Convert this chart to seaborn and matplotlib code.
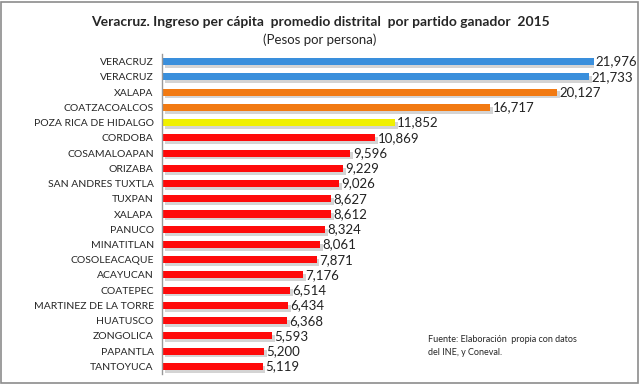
import matplotlib
matplotlib.use("Agg")
import matplotlib.pyplot as plt
import matplotlib.patheffects as pe
import seaborn as sns
import pandas as pd

# datos
distritos = ["VERACRUZ", "VERACRUZ", "XALAPA", "COATZACOALCOS", "POZA RICA DE HIDALGO",
             "CORDOBA", "COSAMALOAPAN", "ORIZABA", "SAN ANDRES TUXTLA", "TUXPAN",
             "XALAPA", "PANUCO", "MINATITLAN", "COSOLEACAQUE", "ACAYUCAN",
             "COATEPEC", "MARTINEZ DE LA TORRE", "HUATUSCO", "ZONGOLICA", "PAPANTLA",
             "TANTOYUCA"]
ingreso = [21976, 21733, 20127, 16717, 11852, 10869, 9596, 9229, 9026, 8627,
           8612, 8324, 8061, 7871, 7176, 6514, 6434, 6368, 5593, 5200, 5119]
partido = ["azul", "azul", "naranja", "naranja", "amarillo"] + ["rojo"] * 16
colores = {"azul": "#3a8fdc", "naranja": "#f27a12", "amarillo": "#f0f000", "rojo": "#ff0a0a"}

df = pd.DataFrame({"distrito": distritos, "ingreso": ingreso, "partido": partido})
df["pos"] = range(len(df))

sns.set_style("white")
plt.rcParams["font.family"] = ["Lato", "DejaVu Sans"]

fig = plt.figure(figsize=(6.4, 3.84), dpi=100)
ax = fig.add_axes([162 / 640, 1 - 374 / 384, (594 - 162) / 640, (374 - 54) / 384])

sns.barplot(data=df, y="pos", x="ingreso", hue="partido", palette=colores,
            orient="h", dodge=False, width=0.46, legend=False, ax=ax,
            edgecolor="none", saturation=1)

# sombra suave bajo cada barra
for bar in ax.patches:
    bar.set_path_effects([pe.SimplePatchShadow(offset=(2, -2), shadow_rgbFace="#a0a0a0", alpha=0.45),
                          pe.Normal()])

for i, v in enumerate(ingreso):
    ax.text(v + 120, i, f"{v:,}", va="center", ha="left", fontsize=9.5,
            color="#222222", clip_on=False)

ax.set_yticks(range(len(distritos)))
ax.set_yticklabels(distritos, fontsize=7.5)
ax.set_ylim(len(distritos) - 0.5, -0.5)
ax.set_xlim(0, 22000)
ax.set_xticks([])
ax.set_xlabel("")
ax.set_ylabel("")
ax.tick_params(axis="y", length=0, pad=6)
for s in ["top", "right", "bottom"]:
    ax.spines[s].set_visible(False)
ax.spines["left"].set_color("#999999")
ax.spines["left"].set_linewidth(1)

fig.text(0.5, 1 - 22 / 384, "Veracruz. Ingreso per cápita  promedio distrital  por partido ganador  2015",
         ha="center", va="center", fontsize=10, fontweight="bold")
fig.text(0.5, 1 - 40 / 384, "(Pesos por persona)", ha="center", va="center", fontsize=9.5)
fig.text(428 / 640, 1 - 346 / 384, "Fuente: Elaboración  propia con datos\ndel INE, y Coneval.",
         ha="left", va="center", fontsize=6.5, linespacing=1.6)

# marco exterior
fig.patches.append(plt.Rectangle((0.002, 0.003), 0.995, 0.993, transform=fig.transFigure,
                                 fill=False, edgecolor="#8c8c8c", linewidth=1.2))

fig.savefig("out.png", dpi=100)
